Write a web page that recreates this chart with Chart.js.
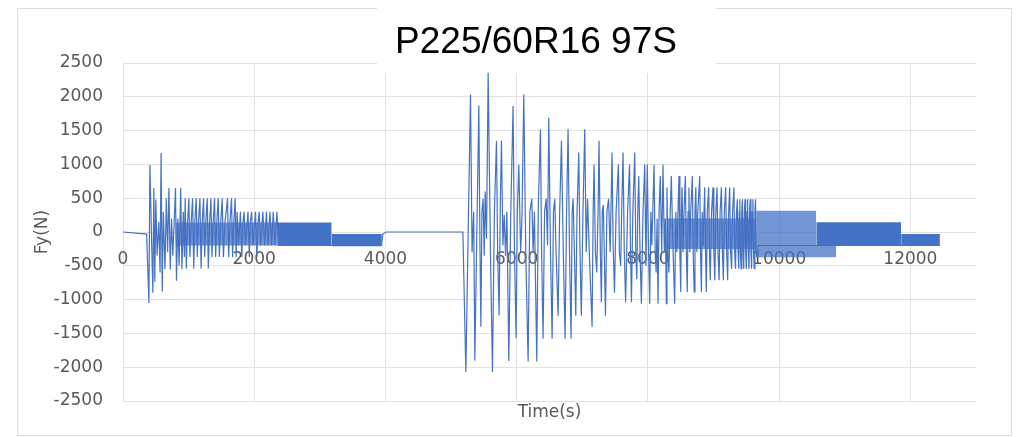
<!DOCTYPE html>
<html>
<head>
<meta charset="utf-8">
<title>P225/60R16 97S</title>
<script src="https://cdn.jsdelivr.net/npm/chart.js@4.4.1/dist/chart.umd.min.js"></script>
<style>
  body { margin: 0; background: #fff; }
  #wrap { width: 1016px; height: 437px; }
</style>
</head>
<body>
<div id="wrap"><canvas id="fyChart" width="1016" height="437"></canvas></div>
<script>
// first run: time (s) and lateral force Fy (N)
const timeA = [0, 360, 395, 410, 440, 455, 470, 485, 500, 520, 545, 565, 580, 598, 615, 640, 660, 680, 700, 720,
    740, 760, 800, 815, 835, 855, 880, 898, 920, 935, 948, 965, 985, 1004, 1020, 1040, 1060, 1078, 1095, 1116,
    1132, 1150, 1172, 1190, 1208, 1228, 1245, 1262, 1284, 1300, 1320, 1340, 1356, 1375, 1395, 1412, 1430, 1451, 1468, 1490,
    1512, 1530, 1555, 1593, 1610, 1630, 1654, 1670, 1690, 1709, 1725, 1740, 1760, 1790, 1810, 1830, 1845, 1865, 1905, 1925,
    1940, 1960, 1980, 2020, 2040, 2060, 2075, 2100, 2130, 2160, 2185, 2210, 2240, 2265, 2290, 2315, 2345, 2370, 3940, 3960,
    4010, 5180];
const forceA = [0, -30, -1050, 990, -300, -900, 650, -735, 480, -350, 150, -600, 1170, -880, 300, -550, 500, -300, 650, -555,
    200, -350, 650, -720, 200, -500, 650, -550, 300, -370, 500, -540, 150, 500, -370, 150, 500, -540, 150, 500,
    -370, 150, 500, -540, 150, 500, -370, 150, 500, -540, 150, 500, -370, 150, 500, -370, 150, 500, -370, 150,
    500, -370, 150, 500, -370, 150, 500, -370, 150, 500, -370, 300, -200, 300, -370, 150, 300, -200, 300, -370,
    150, 300, -200, 300, -370, 150, 300, -200, 300, -200, 300, -200, 300, -200, 300, -200, 300, -200, -200, -30,
    0, 0];

// second run
const timeB = [5225, 5296, 5320, 5345, 5362, 5423, 5440, 5454, 5470, 5488, 5505, 5520, 5540, 5565, 5600, 5631, 5660, 5692, 5710, 5732,
    5750, 5768, 5790, 5810, 5830, 5850, 5880, 5910, 5945, 5965, 5991, 6010, 6032, 6060, 6080, 6108, 6140, 6174, 6200, 6230,
    6250, 6270, 6306, 6330, 6362, 6380, 6402, 6425, 6450, 6470, 6489, 6515, 6540, 6560, 6580, 6600, 6631, 6655, 6682, 6710,
    6738, 6760, 6783, 6805, 6829, 6845, 6860, 6880, 6900, 6920, 6946, 6965, 6985, 7010, 7037, 7060, 7080, 7110, 7149, 7165,
    7179, 7200, 7220, 7240, 7255, 7275, 7291, 7305, 7320, 7335, 7353, 7375, 7400, 7425, 7453, 7470, 7490, 7515, 7550, 7565,
    7585, 7600, 7621, 7640, 7660, 7690, 7720, 7735, 7749, 7770, 7799, 7815, 7830, 7845, 7860, 7880, 7900, 7925, 7951, 7970,
    7980, 7990, 8010, 8027, 8045, 8060, 8093, 8110, 8125, 8140, 8154, 8170, 8188, 8210, 8230, 8250, 8265, 8281, 8290, 8305,
    8320, 8340, 8357, 8380, 8408, 8425, 8440, 8474, 8487, 8500, 8510, 8520, 8535, 8550, 8571, 8585, 8600, 8612, 8625, 8638,
    8652, 8677, 8690, 8705, 8717, 8730, 8745, 8760, 8789, 8802, 8815, 8828, 8840, 8865, 8878, 8890, 8905, 8926, 8938, 8950,
    8970, 8992, 9005, 9020, 9035, 9053, 9068, 9085, 9100, 9120, 9135, 9150, 9165, 9185, 9200, 9215, 9230, 9246, 9260, 9275,
    9290, 9311, 9322, 9335, 9350, 9363, 9374, 9385, 9393, 9400, 9410, 9420, 9430, 9440, 9450, 9460, 9470, 9480, 9490, 9500,
    9510, 9520, 9530, 9540, 9550, 9560, 9570, 9580, 9590, 9600, 9610, 9620, 9630, 9640, 9650, 9660, 9680, 12450];
const forceB = [-2070, 2035, -300, 300, -1900, 1870, -200, -1400, 300, 490, -350, 600, -100, 2355, -300, -2070, 300, 1350, -300, -1235,
    400, 1350, -200, 250, -350, 300, -1910, 300, 1865, -200, -1570, 300, 1000, -300, 200, 2035, -400, -1915, 300, 490,
    -300, 300, -1915, 400, 1520, -300, -1580, 300, 490, -200, 1690, -300, -1580, 300, 490, -300, -1240, 300, 1350, -300,
    -1580, 300, 1520, -300, -1580, 300, 490, -300, -1240, 300, 1175, -300, -1240, 300, 1520, -300, 490, -400, -1400, 300,
    1000, -300, -600, 300, 1350, -300, -1040, 300, 400, -300, -1240, 300, 490, -300, 1175, -200, -900, 300, 1000, -300,
    -500, 300, 1175, -300, -1040, 300, 1000, -300, -1040, 300, 1175, -300, -700, 300, 830, -300, -1060, 300, 1000, -500,
    300, 1000, -300, -1060, 300, -200, 1000, -300, -600, 200, -1060, 300, 830, -300, 1000, -300, 200, -1060, 660, -300,
    -600, 300, 830, -200, -1060, 300, -300, 830, -300, -887, 300, 660, -300, 300, 830, -300, -887, 300, 660, -300,
    300, 830, -300, -887, 300, 660, -300, 300, 830, -300, -887, 300, -200, 660, -300, -887, 300, 660, -300, -715,
    300, 660, -300, -715, 300, 660, -300, -715, 300, 660, -300, -715, 300, 660, -300, -715, 300, 660, -300, -544,
    300, 660, -300, -544, 300, 485, -300, -544, 300, 485, -300, -544, 300, 485, -300, -544, 300, 485, -300, -544,
    300, 485, -300, -544, 300, 485, -300, -544, 300, 485, -300, -544, 300, 485, -300, -372, -200, -200];

// stretches where the trace is packed so tight it reads as a solid block
const solidStart = [2350, 3180, 10566, 11860];
const solidEnd = [3180, 3945, 11860, 12450];
const solidTop = [140, -30, 145, -30];
const solidBottom = [-205, -210, -205, -205];

// stretches that are dense but still show gaps
const hazeStart = [800, 8300, 9650, 9650];
const hazeEnd = [2350, 9650, 10566, 10870];
const hazeTop = [140, 200, 314, -200];
const hazeBottom = [-200, -250, -200, -372];

const xTicks = [0, 2000, 4000, 6000, 8000, 10000, 12000];
const yTicks = [-2500, -2000, -1500, -1000, -500, 0, 500, 1000, 1500, 2000, 2500];

const blue = '#4472C4';
const gridColor = '#e2e2e2';
const labelColor = '#595959';

const allTimes = timeA.concat(timeB);
const allForces = forceA.concat(forceB);
const trace = allTimes.map((t, i) => ({x: t, y: allForces[i]}));

function bandSets(starts, ends, tops, bottoms, color) {
    const sets = [];
    starts.forEach((s, i) => {
        sets.push({
            data: [{x: s, y: tops[i]}, {x: ends[i], y: tops[i]}],
            borderWidth: 0, pointRadius: 0, fill: '+1', backgroundColor: color
        });
        sets.push({
            data: [{x: s, y: bottoms[i]}, {x: ends[i], y: bottoms[i]}],
            borderWidth: 0, pointRadius: 0, fill: false
        });
    });
    return sets;
}

const frame = {
    id: 'frame',
    beforeDraw(chart) {
        const ctx = chart.ctx;
        ctx.save();
        ctx.fillStyle = '#fff';
        ctx.fillRect(0, 0, chart.width, chart.height);
        ctx.strokeStyle = '#dcdcdc';
        ctx.lineWidth = 1;
        ctx.strokeRect(17.5, 8.5, 994, 427);
        ctx.restore();
    },
    beforeDatasetsDraw(chart) {
        // white box the title sits in, it hides the top of the grid
        const ctx = chart.ctx;
        ctx.save();
        ctx.fillStyle = '#fff';
        ctx.fillRect(377, 0, 339, 73);
        ctx.restore();
    },
    afterDraw(chart) {
        const ctx = chart.ctx;
        const area = chart.chartArea;
        ctx.save();
        ctx.fillStyle = '#000';
        ctx.font = '37px "Liberation Sans", Arial, sans-serif';
        ctx.textAlign = 'center';
        ctx.textBaseline = 'alphabetic';
        ctx.fillText('P225/60R16 97S', 536, 53);
        ctx.fillStyle = labelColor;
        ctx.font = '17px "DejaVu Sans", sans-serif';
        ctx.textBaseline = 'middle';
        ctx.fillText('Time(s)', (area.left + area.right) / 2, 413);
        ctx.restore();
    }
};

new Chart(document.getElementById('fyChart'), {
    type: 'line',
    data: {
        datasets: [
            ...bandSets(hazeStart, hazeEnd, hazeTop, hazeBottom, 'rgba(68, 114, 196, 0.75)'),
            ...bandSets(solidStart, solidEnd, solidTop, solidBottom, blue),
            {
                label: 'Fy',
                data: trace,
                borderColor: blue,
                borderWidth: 1.2,
                pointRadius: 0,
                tension: 0,
                fill: false
            }
        ]
    },
    options: {
        responsive: false,
        animation: false,
        devicePixelRatio: 1,
        layout: {padding: {left: 0, top: 63, right: 40, bottom: 36}},
        plugins: {
            legend: {display: false},
            tooltip: {enabled: false}
        },
        scales: {
            x: {
                type: 'linear',
                position: {y: 0},
                min: 0,
                max: 13000,
                afterBuildTicks: scale => { scale.ticks = xTicks.map(v => ({value: v})); },
                grid: {color: gridColor, drawTicks: false},
                border: {display: false},
                ticks: {
                    color: labelColor,
                    padding: 17,
                    maxRotation: 0,
                    font: {family: '"DejaVu Sans", sans-serif', size: 17},
                    callback: v => String(v)
                }
            },
            y: {
                type: 'linear',
                min: -2500,
                max: 2500,
                afterBuildTicks: scale => { scale.ticks = yTicks.map(v => ({value: v})); },
                afterFit: scale => { scale.width = 123; },
                grid: {color: gridColor, drawTicks: false},
                border: {display: false},
                ticks: {
                    color: labelColor,
                    padding: 20,
                    font: {family: '"DejaVu Sans", sans-serif', size: 17},
                    callback: v => String(v)
                },
                title: {
                    display: true,
                    text: 'Fy(N)',
                    color: labelColor,
                    padding: {top: 32, bottom: 0},
                    font: {family: '"DejaVu Sans", sans-serif', size: 17}
                }
            }
        }
    },
    plugins: [frame]
});
</script>
</body>
</html>
